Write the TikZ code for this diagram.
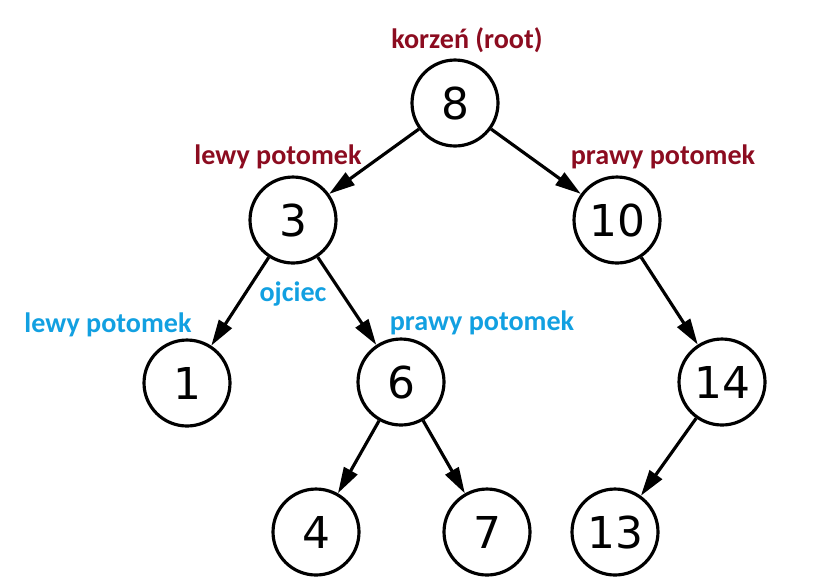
\documentclass[tikz,border=0pt]{standalone}
\usepackage{fontspec}
\usepackage{xcolor}
\usepackage{tikz}
\usetikzlibrary{arrows.meta}
\setmainfont{DejaVu Sans}
\newfontfamily\labelfont{Carlito}
\definecolor{rootred}{RGB}{140,12,32}
\definecolor{kidblue}{RGB}{18,160,225}
\tikzset{
  vert/.style={circle,draw,line width=1.8pt,minimum size=1.72cm,inner sep=0pt,font=\fontsize{25}{25}\selectfont},
  edge/.style={line width=1.8pt,-{Triangle[length=0.52cm,width=0.3cm]}},
  redlbl/.style={text=rootred,font=\labelfont\bfseries\fontsize{16}{16}\selectfont},
  bluelbl/.style={text=kidblue,font=\labelfont\bfseries\fontsize{16}{16}\selectfont}
}

\begin{document}
\begin{tikzpicture}[x=0.02cm,y=-0.02cm]
                \useasboundingbox (0,0) rectangle (820,583);
                % tree nodes
                \node[vert] (n8) at (455,103) {8};
                \node[vert] (n3) at (293,220) {3};
                \node[vert] (n10) at (617,220) {10};
                \node[vert] (n1) at (187,383) {1};
                \node[vert] (n6) at (401,382) {6};
                \node[vert] (n14) at (722,382) {14};
                \node[vert] (n4) at (316,532) {4};
                \node[vert] (n7) at (487,532) {7};
                \node[vert] (n13) at (615,532) {13};
                % edges
                \draw[edge] (n8) -- (n3);
                \draw[edge] (n8) -- (n10);
                \draw[edge] (n3) -- (n1);
                \draw[edge] (n3) -- (n6);
                \draw[edge] (n6) -- (n4);
                \draw[edge] (n6) -- (n7);
                \draw[edge] (n10) -- (n14);
                \draw[edge] (n14) -- (n13);
                % labels
                \node[redlbl] (root) at (467,40) {korzeń (root)};
                \node[redlbl] (left) at (278,157) {lewy potomek};
                \node[redlbl] (right) at (663,157) {prawy potomek};
                \node[bluelbl] (parent) at (293,294) {ojciec};
                \node[bluelbl] (left2) at (108,325) {lewy potomek};
                \node[bluelbl] (right2) at (482,323) {prawy potomek};
            \end{tikzpicture}
\end{document}
